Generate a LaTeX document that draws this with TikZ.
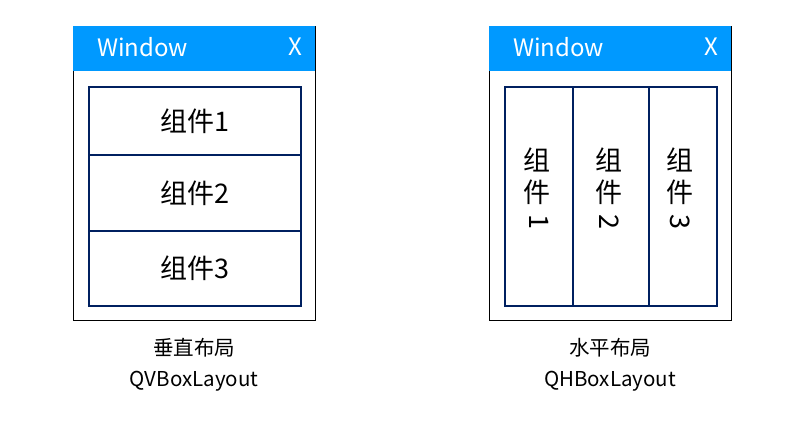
\documentclass[tikz,border=0pt]{standalone}
\usepackage{fontspec}
\setmainfont{Noto Sans CJK SC}
\definecolor{titleblue}{HTML}{0099FF}
\definecolor{navy}{HTML}{002060}
\begin{document}
\begin{tikzpicture}[x=1pt,y=-1pt,
  win/.style={draw=black, line width=0.8pt, fill=white, inner sep=0pt,
    minimum width=242pt, minimum height=294pt, anchor=north west},
  bar/.style={fill=titleblue, inner sep=0pt,
    minimum width=242pt, minimum height=45pt, anchor=north west},
  part/.style={draw=navy, line width=1.6pt, inner sep=0pt, anchor=north west,
    font=\fontsize{27}{31}\selectfont},
  ttl/.style={text=white, inner sep=0pt, font=\fontsize{24}{28}\selectfont},
  vch/.style={inner sep=0pt, font=\fontsize{27}{31}\selectfont},
  captext/.style={inner sep=0pt, font=\fontsize{20.5}{24}\selectfont}]
\useasboundingbox[fill=white] (0,0) rectangle (796,424);
% left window
\node[win] (winL) at (73,26) {};
\node[bar] (barL) at (73,26) {};
\node[ttl, anchor=west] (tL) at (97,47) {Window};
\node[ttl] (xL) at (295,47) {X};
\node[part, minimum width=212pt, minimum height=68pt] (r1) at (88,86) {组件1};
\node[part, minimum width=212pt, minimum height=76pt] (r2) at (88,154) {组件2};
\node[part, minimum width=212pt, minimum height=75pt] (r3) at (88,230) {组件3};
\node[captext] (lL1) at (194,348) {垂直布局};
\node[captext] (lL2) at (194,381) {QVBoxLayout};
% right window
\node[win] (winR) at (489,26) {};
\node[bar] (barR) at (489,26) {};
\node[ttl, anchor=west] (tR) at (513,47) {Window};
\node[ttl] (xR) at (711,47) {X};
\node[part, minimum width=68pt, minimum height=219pt] (c1) at (504,86) {};
\node[part, minimum width=76pt, minimum height=219pt] (c2) at (572,86) {};
\node[part, minimum width=68pt, minimum height=219pt] (c3) at (648,86) {};
\node[vch] (c1a) at (537,160) {组};
\node[vch] (c1b) at (537,192) {件};
\node[vch, rotate=-90] (c1c) at (539,222) {1};
\node[vch] (c2a) at (609,160) {组};
\node[vch] (c2b) at (609,192) {件};
\node[vch, rotate=-90] (c2c) at (609,222) {2};
\node[vch] (c3a) at (680,160) {组};
\node[vch] (c3b) at (680,192) {件};
\node[vch, rotate=-90] (c3c) at (680,222) {3};
\node[captext] (lR1) at (610,348) {水平布局};
\node[captext] (lR2) at (610,381) {QHBoxLayout};
\end{tikzpicture}
\end{document}
